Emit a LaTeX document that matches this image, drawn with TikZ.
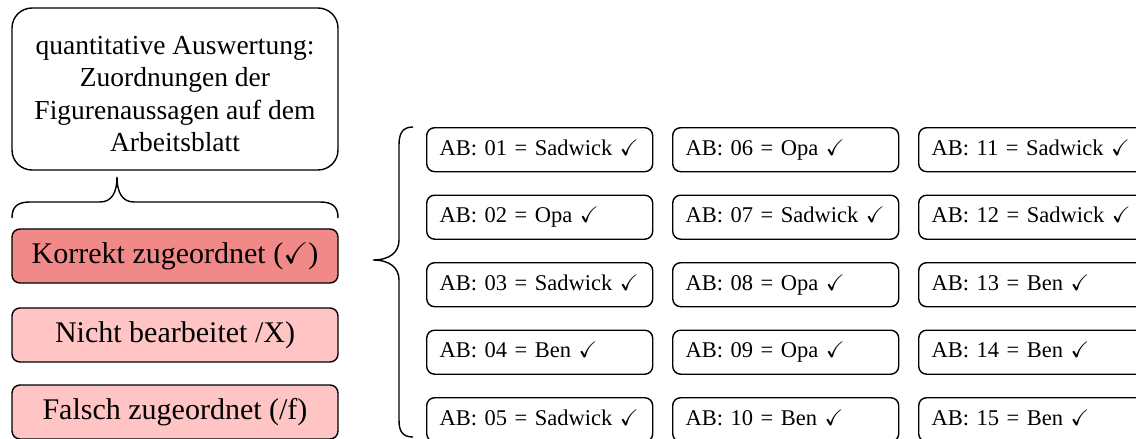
\documentclass[tikz,border=0pt]{standalone}
\usepackage{amssymb}
\usepackage{fontspec}
\setmainfont{Liberation Serif}

\definecolor{korrektrot}{RGB}{242,137,137}
\definecolor{hellrot}{RGB}{255,196,196}

\tikzset{
	kategorie/.style={draw, line width=1.4pt, rounded corners=8pt, minimum width=326pt, minimum height=54pt, font=\fontsize{30}{34}\selectfont},
	abbox/.style={draw, line width=1.4pt, rounded corners=8pt, anchor=north west, minimum height=44pt, inner xsep=13pt, text width=200pt, text height=16pt, text depth=5pt, align=left, font=\fontsize{22.5}{26}\selectfont}
}

\begin{document}
\begin{tikzpicture}[x=1pt, y=-1pt]
	
	\useasboundingbox (0,0) rectangle (1136,439);
	
	%what gets counted
	\node[draw, line width=1.4pt, rounded corners=20pt, minimum width=326pt, minimum height=162pt, align=center, font=\fontsize{27.5}{32.5}\selectfont] (auswertung) at (175,89)
		{\rule{0pt}{28pt}quantitative Auswertung:\\Zuordnungen der\\Figurenaussagen auf dem\\Arbeitsblatt};
	
	%the three categories
	\node[kategorie, fill=korrektrot] (korrekt) at (175,256) {Korrekt zugeordnet ($\checkmark$)};
	\node[kategorie, fill=hellrot] (nicht) at (175,335) {Nicht bearbeitet /X)};
	\node[kategorie, fill=hellrot] (falsch) at (175,412) {Falsch zugeordnet (/f)};
	
	%brace over the categories
	\draw[line width=1.4pt] (12,218) .. controls (12,207) and (17,202) .. (30,202) -- (100,202)
		.. controls (112,202) and (117,192) .. (117,177)
		.. controls (117,192) and (122,202) .. (134,202) -- (320,202)
		.. controls (333,202) and (338,207) .. (338,218);
	
	%brace in front of the worksheet items
	\draw[line width=1.4pt] (413,127) .. controls (403,127) and (399,133) .. (399,145) -- (399,240)
		.. controls (399,252) and (390,260) .. (373,260)
		.. controls (390,260) and (399,268) .. (399,280) -- (399,420)
		.. controls (399,432) and (403,437) .. (413,437);
	
	%worksheet items, five per column
	\foreach \nr/\wer [count=\i from 0] in {01/Sadwick, 02/Opa, 03/Sadwick, 04/Ben, 05/Sadwick,
			06/Opa, 07/Sadwick, 08/Opa, 09/Opa, 10/Ben,
			11/Sadwick, 12/Sadwick, 13/Ben, 14/Ben, 15/Ben}
		\node[abbox] (ab\nr) at ({426+246*int(\i/5)}, {127+67.5*mod(\i,5)}) {\mbox{AB: \nr{} = \wer{} $\checkmark$}};
	
\end{tikzpicture}
\end{document}
